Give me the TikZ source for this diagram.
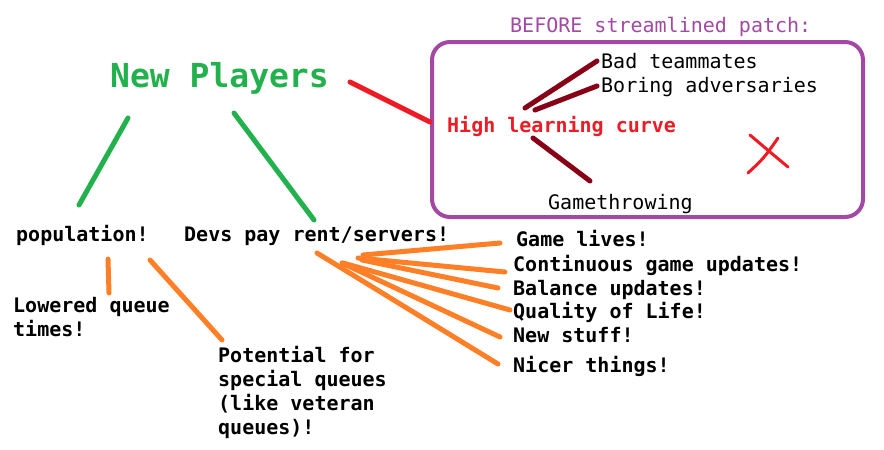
\documentclass[tikz,border=0pt]{standalone}
\usepackage{fontspec}
\setmonofont{DejaVu Sans Mono}
\usepackage{xcolor}
\definecolor{paintgreen}{RGB}{34,177,76}
\definecolor{paintred}{RGB}{237,28,36}
\definecolor{paintorange}{RGB}{255,127,39}
\definecolor{paintpurple}{RGB}{163,73,164}
\definecolor{paintdark}{RGB}{136,0,21}
\usetikzlibrary{positioning}

\begin{document}
\begin{tikzpicture}[x=1pt, y=-1pt, line cap=round,
  txt/.style={anchor=base west, inner sep=0pt, align=left, font=\ttfamily\bfseries\fontsize{20}{24}\selectfont},
  plain/.style={txt, font=\ttfamily\fontsize{20}{24}\selectfont},
  grnline/.style={paintgreen, line width=5pt},
  redline/.style={paintred, line width=5pt},
  darkline/.style={paintdark, line width=5pt},
  orgline/.style={paintorange, line width=5pt}]
\useasboundingbox (0,0) rectangle (884,450);

\node[plain, paintpurple] (before) at (510,32) {BEFORE streamlined patch:};
\draw[paintpurple, line width=4pt, rounded corners=18pt] (432,42) rectangle (863,217);

\node[txt, paintgreen, font=\ttfamily\bfseries\fontsize{33}{40}\selectfont] (np) at (110,87) {New Players};
\node[txt, paintred] (hlc) at (447,132) {High learning curve};
\node[plain] (bad) at (601,68) {Bad teammates};
\node[plain] (boring) at (601,92) {Boring adversaries};
\node[plain] (throw) at (548,209) {Gamethrowing};

\node[txt] (pop) at (16,241) {population!};
\node[txt] (devs) at (184,241) {Devs pay rent/servers!};
\node[txt] (lowq) at (13,336) {Lowered queue\\times!};
\node[txt] (special) at (218,434) {Potential for\\special queues\\(like veteran\\queues)!};

\node[txt] (lives) at (516,246) {Game lives!};
\node[txt] (updates) at (513,271) {Continuous game updates!};
\node[txt] (balance) at (513,295) {Balance updates!};
\node[txt] (qol) at (513,318) {Quality of Life!};
\node[txt] (stuff) at (513,342) {New stuff!};
\node[txt] (nicer) at (513,372) {Nicer things!};

\coordinate (np-l) at (128,118);
\coordinate (np-r) at (234,113);
\coordinate (np-e) at (350,82);
\coordinate (pop-n) at (79,205);
\coordinate (devs-n) at (314,220);
\coordinate (hlc-w) at (430,122);
\coordinate (hlc-a) at (525,108);
\coordinate (hlc-b) at (535,110);
\coordinate (hlc-c) at (533,138);
\coordinate (bad-w) at (597,61);
\coordinate (boring-w) at (597,86);
\coordinate (throw-n) at (590,181);

\draw[grnline] (np-l) -- (pop-n);
\draw[grnline] (np-r) -- (devs-n);
\draw[redline] (np-e) -- (hlc-w);
\draw[darkline] (hlc-a) -- (bad-w);
\draw[darkline] (hlc-b) -- (boring-w);
\draw[darkline] (hlc-c) -- (throw-n);

\draw[paintred, line width=3pt] (750,135) .. controls (770,152) .. (788,167);
\draw[paintred, line width=3pt] (778,138) .. controls (764,158) .. (748,173);

\coordinate (pop-a) at (108,259);
\coordinate (pop-b) at (150,260);
\coordinate (lowq-n) at (109,293);
\coordinate (special-n) at (222,340);
\draw[orgline] (pop-a) -- (lowq-n);
\draw[orgline] (pop-b) -- (special-n);

\coordinate (devs-a) at (363,255);
\coordinate (devs-b) at (358,258);
\coordinate (devs-c) at (362,260);
\coordinate (devs-d) at (343,263);
\coordinate (devs-e) at (342,263);
\coordinate (devs-f) at (317,253);
\coordinate (lives-w) at (500,243);
\coordinate (updates-w) at (505,272);
\coordinate (balance-w) at (498,288);
\coordinate (qol-w) at (510,310);
\coordinate (stuff-w) at (500,337);
\coordinate (nicer-w) at (498,364);
\draw[orgline] (devs-a) -- (lives-w);
\draw[orgline] (devs-b) -- (updates-w);
\draw[orgline] (devs-c) -- (balance-w);
\draw[orgline] (devs-d) -- (qol-w);
\draw[orgline] (devs-e) -- (stuff-w);
\draw[orgline] (devs-f) -- (nicer-w);
\end{tikzpicture}
\end{document}
